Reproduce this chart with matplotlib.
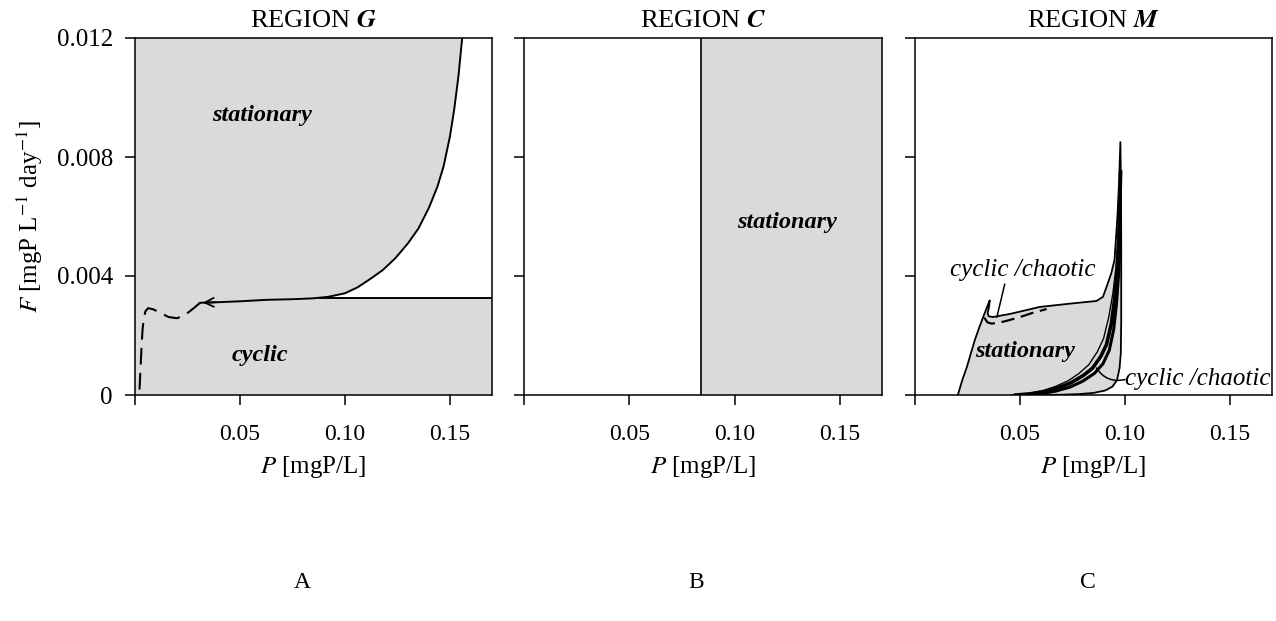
import matplotlib
matplotlib.use("Agg")
import matplotlib.pyplot as plt

plt.rcParams['font.family'] = 'Liberation Serif'
plt.rcParams['mathtext.fontset'] = 'stix'

GREY = '#dadada'

# --- panel A (region G) ---
curveA_P = [0.031, 0.040, 0.050, 0.063, 0.075, 0.085, 0.092, 0.100, 0.106, 0.112, 0.118,
            0.124, 0.130, 0.135, 0.140, 0.144, 0.147, 0.150, 0.152, 0.154, 0.1558]
curveA_F = [0.0031, 0.00312, 0.00315, 0.0032, 0.00322, 0.00325, 0.0033, 0.00342, 0.00362,
            0.0039, 0.0042, 0.0046, 0.0051, 0.0056, 0.0063, 0.0070, 0.0077, 0.0087,
            0.0096, 0.0107, 0.0120]
lineA_F = 0.00326
lineA_P = [0.088, 0.17]
dashA_P = [0.031, 0.028, 0.024, 0.020, 0.016, 0.012, 0.0087, 0.0063, 0.0050, 0.0042,
           0.0036, 0.0031, 0.0027, 0.0023, 0.0020]
dashA_F = [0.0031, 0.00292, 0.00270, 0.00258, 0.00262, 0.00276, 0.00288, 0.00292, 0.00282,
           0.00258, 0.0022, 0.0016, 0.0010, 0.0004, 0.0]

# --- panel B (region C) ---
boundB_P = 0.084

# --- panel C (region M) ---
leftC_P = [0.0204, 0.0225, 0.0247, 0.0266, 0.0285, 0.0305, 0.0323, 0.0340, 0.0356]
leftC_F = [0.0, 0.0005, 0.00094, 0.0014, 0.00185, 0.00225, 0.00259, 0.0029, 0.00318]
upperC_P = [0.0352, 0.0346, 0.0350, 0.0370, 0.045, 0.0594, 0.075, 0.0864, 0.0895,
            0.0912, 0.0935, 0.0950, 0.0964, 0.0972, 0.0978]
upperC_F = [0.00295, 0.00275, 0.00265, 0.00262, 0.00272, 0.00296, 0.00308, 0.00316, 0.0033,
            0.00363, 0.0041, 0.00454, 0.0060, 0.0072, 0.0085]
rightC_P = [0.0981, 0.0982, 0.0982, 0.0980, 0.0974, 0.0962, 0.0940, 0.0905, 0.0850,
            0.0780, 0.0700, 0.0627]
rightC_F = [0.0070, 0.0050, 0.0025, 0.0014, 0.0009, 0.0005, 0.00028, 0.00015, 0.00007,
            0.00003, 0.00001, 0.0]
dashC_P = [0.0330, 0.0345, 0.0365, 0.0400, 0.0440, 0.0500, 0.0560, 0.0627]
dashC_F = [0.0026, 0.00244, 0.00240, 0.00243, 0.00250, 0.00262, 0.00276, 0.00289]
thick1_P = [0.048, 0.055, 0.062, 0.068, 0.074, 0.080, 0.0845, 0.0885, 0.0912, 0.0935,
            0.0950, 0.0962, 0.0969, 0.0975, 0.0979]
thick1_F = [0.0, 0.00004, 0.00012, 0.00024, 0.0004, 0.00065, 0.0009, 0.0013, 0.0017,
            0.0024, 0.0032, 0.0041, 0.0050, 0.0062, 0.0075]
thin2_P = [0.046, 0.054, 0.061, 0.067, 0.073, 0.078, 0.0828, 0.0868, 0.0898, 0.0922,
           0.0942, 0.0957, 0.0967, 0.0975]
thin2_F = [0.0, 0.00005, 0.00015, 0.00029, 0.00048, 0.00072, 0.00102, 0.00145, 0.0019,
           0.0026, 0.0034, 0.0043, 0.0053, 0.0065]
thick3_P = [0.052, 0.060, 0.067, 0.074, 0.080, 0.0855, 0.0895, 0.0925, 0.0946, 0.0960,
            0.0971, 0.0978]
thick3_F = [0.0, 0.00004, 0.00013, 0.00027, 0.00047, 0.00073, 0.00105, 0.0015, 0.0022,
            0.0031, 0.0042, 0.0055]

fig = plt.figure(figsize=(12.76, 6.21), dpi=100)
W, H = 1276, 621
boxes = [(135, 492), (524, 882), (915, 1272)]
axes = [fig.add_axes([l / W, 1 - 395 / H, (r - l) / W, 357 / H]) for l, r in boxes]

for i, ax in enumerate(axes):
    ax.set_xlim(0, 0.17)
    ax.set_ylim(0, 0.012)
    ax.set_xticks([0, 0.05, 0.10, 0.15])
    ax.set_xticklabels(['', '0.05', '0.10', '0.15'])
    ax.set_yticks([0, 0.004, 0.008, 0.012])
    if i == 0:
        ax.set_yticklabels(['0', '0.004', '0.008', '0.012'])
    else:
        ax.set_yticklabels([])
    ax.tick_params(direction='out', length=7, width=1.1)
    ax.tick_params(axis='x', pad=14, labelsize=17)
    ax.tick_params(axis='y', pad=9, labelsize=18)
    for s in ax.spines.values():
        s.set_linewidth(1.1)
    ax.set_xlabel('$P$ [mgP/L]', fontsize=18, labelpad=6)

axes[0].set_ylabel('$F$ [mgP L$^{-1}$ day$^{-1}$]', fontsize=18, labelpad=8)

titles = ['REGION $\\mathbfit{G}$', 'REGION $\\mathbfit{C}$', 'REGION $\\mathbfit{M}$']
for ax, t in zip(axes, titles):
    ax.set_title(t, fontsize=19, pad=8)

# panel A
ax = axes[0]
polyP = [0, 0.17, 0.17] + [p for p in curveA_P if p >= 0.092] + [0]
polyF = [0, 0, lineA_F] + [f for p, f in zip(curveA_P, curveA_F) if p >= 0.092] + [0.012]
polyF[3] = lineA_F
ax.fill(polyP, polyF, color=GREY, lw=0)
ax.plot(curveA_P, curveA_F, color='black', lw=1.4)
ax.plot(lineA_P, [lineA_F, lineA_F], color='black', lw=1.4)
ax.plot(dashA_P, dashA_F, color='black', lw=1.5, linestyle=(0, (8, 4)))
ax.annotate('', xy=(curveA_P[0], curveA_F[0]), xytext=(0.040, curveA_F[1]),
            arrowprops=dict(arrowstyle='->', color='black', lw=1.3, mutation_scale=16))
ax.text(0.0607, 0.0094, 'stationary', fontsize=17.5, style='italic', fontweight='bold',
        ha='center', va='center')
ax.text(0.0597, 0.00134, 'cyclic', fontsize=17.5, style='italic', fontweight='bold',
        ha='center', va='center')

# panel B
ax = axes[1]
ax.axvspan(boundB_P, 0.17, color=GREY, lw=0)
ax.axvline(boundB_P, color='black', lw=1.2)
ax.text(0.1249, 0.0058, 'stationary', fontsize=17.5, style='italic', fontweight='bold',
        ha='center', va='center')

# panel C
ax = axes[2]
polyP = leftC_P + upperC_P + rightC_P
polyF = leftC_F + upperC_F + rightC_F
ax.fill(polyP, polyF, color=GREY, lw=0)
ax.plot(polyP, polyF, color='black', lw=1.3)
ax.plot(dashC_P, dashC_F, color='black', lw=1.6, linestyle=(0, (6, 3)))
ax.plot(thick1_P, thick1_F, color='black', lw=2.6)
ax.plot(thin2_P, thin2_F, color='black', lw=1.0)
ax.plot(thick3_P, thick3_F, color='black', lw=2.2)
ax.text(0.0522, 0.00145, 'stationary', fontsize=17.5, style='italic', fontweight='bold',
        ha='center', va='center')
ax.text(0.0513, 0.0042, 'cyclic /chaotic', fontsize=18, style='italic',
        ha='center', va='center')
ax.plot([0.0427, 0.0390], [0.00372, 0.00262], color='black', lw=1.1)
ax.text(0.1000, 0.00055, 'cyclic /chaotic', fontsize=18, style='italic',
        ha='left', va='center')
ax.annotate('', xy=(0.0864, 0.00091), xytext=(0.1000, 0.00052),
            arrowprops=dict(arrowstyle='-', color='black', lw=1.1,
                            connectionstyle='arc3,rad=-0.35', shrinkA=0, shrinkB=0))

for x, lab in zip([302, 696, 1088], ['A', 'B', 'C']):
    fig.text(x / W, 1 - 582 / H, lab, fontsize=17, ha='center', va='center')

fig.savefig('out.png', dpi=100)
